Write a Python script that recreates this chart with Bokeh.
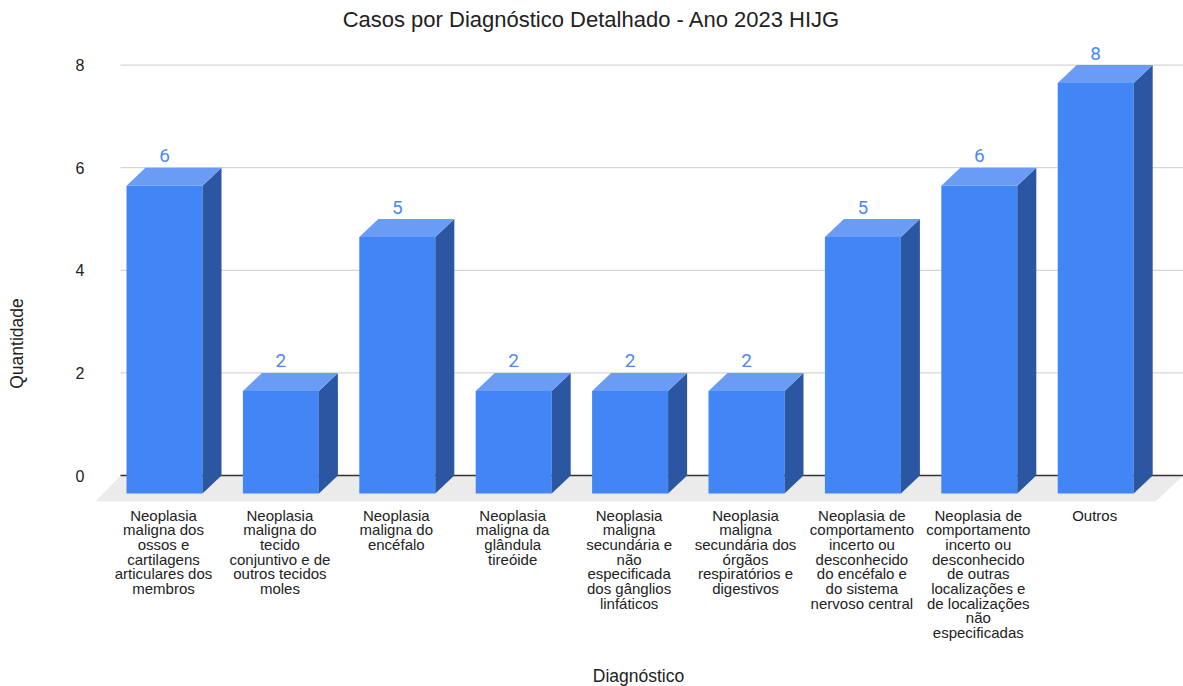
from bokeh.plotting import figure
from bokeh.models import Range1d, FixedTicker
from bokeh.embed import file_html
from bokeh.resources import INLINE
from bokeh.core.properties import value

# ---------------- data ----------------
categories = [
    "Neoplasia\nmaligna dos\nossos e\ncartilagens\narticulares dos\nmembros",
    "Neoplasia\nmaligna do\ntecido\nconjuntivo e de\noutros tecidos\nmoles",
    "Neoplasia\nmaligna do\nencéfalo",
    "Neoplasia\nmaligna da\nglândula\ntireóide",
    "Neoplasia\nmaligna\nsecundária e\nnão\nespecificada\ndos gânglios\nlinfáticos",
    "Neoplasia\nmaligna\nsecundária dos\nórgãos\nrespiratórios e\ndigestivos",
    "Neoplasia de\ncomportamento\nincerto ou\ndesconhecido\ndo encéfalo e\ndo sistema\nnervoso central",
    "Neoplasia de\ncomportamento\nincerto ou\ndesconhecido\nde outras\nlocalizações e\nde localizações\nnão\nespecificadas",
    "Outros",
]
counts = [6, 2, 5, 2, 2, 2, 5, 6, 8]
y_ticks = [0, 2, 4, 6, 8]
title_text = "Casos por Diagnóstico Detalhado - Ano 2023 HIJG"
x_title = "Diagnóstico"
y_title = "Quantidade"

# ---------------- layout (pixels) ----------------
W, H = 1183, 686
FL = 90          # frame left
X0 = 164.0       # pixel of first category centre
KX = 116.4       # pixels per category
Y0 = 475.0       # pixel of value 0
KY = 51.3        # pixels per unit


def sx(px):
    return (px - X0) / KX


def sy(py):
    return (Y0 - py) / KY


FRONT = "#4285F4"
SIDE = "#2B56A1"
TOP = "#6A9CF5"
FONT = "Liberation Sans"

p = figure(width=W, height=H, x_range=Range1d(sx(FL), sx(W)), y_range=Range1d(sy(H), sy(0)),
           output_backend="svg", toolbar_location=None, x_axis_location=None,
           min_border_left=FL, min_border_right=0, min_border_top=0, min_border_bottom=0)
p.xgrid.visible = False
p.ygrid.visible = False
p.outline_line_color = None
p.background_fill_color = "white"
p.border_fill_color = "white"

ax = p.yaxis[0]
ax.ticker = FixedTicker(ticks=y_ticks)
ax.axis_line_color = None
ax.major_tick_line_color = None
ax.minor_tick_line_color = None
ax.major_tick_out = 0
ax.major_tick_in = 0
ax.major_label_standoff = 6
ax.major_label_text_font = FONT
ax.major_label_text_font_size = "16px"
ax.major_label_text_color = "#222222"
ax.axis_label = y_title
ax.axis_label_text_font = FONT
ax.axis_label_text_font_size = "17.5px"
ax.axis_label_text_font_style = "normal"
ax.axis_label_text_color = "#222222"
ax.axis_label_standoff = 46

# floor
p.patch(x=[sx(120), sx(W), sx(1155), sx(95)], y=[0, 0, sy(501), sy(501)],
        fill_color="#EBEBEB", line_color=None)

# gridlines
p.segment(x0=[sx(120)] * len(y_ticks), y0=y_ticks, x1=[sx(W)] * len(y_ticks), y1=y_ticks,
          line_color="#CCCCCC", line_width=1)
p.segment(x0=[sx(120)], y0=[0], x1=[sx(W)], y1=[0], line_color="#333333", line_width=1.5)

# 3D bars
hw = 38.0 / KX
dx = 19.0 / KX
dy = 18.0 / KY
xs = list(range(len(counts)))
p.quad(left=[x - hw for x in xs], right=[x + hw for x in xs],
       bottom=[-dy] * len(xs), top=[v - dy for v in counts],
       fill_color=FRONT, line_color=None)
p.patches(xs=[[x + hw, x + hw + dx, x + hw + dx, x + hw] for x in xs],
          ys=[[-dy, 0, v, v - dy] for v in counts],
          fill_color=SIDE, line_color=None)
p.patches(xs=[[x - hw, x - hw + dx, x + hw + dx, x + hw] for x in xs],
          ys=[[v - dy, v, v, v - dy] for v in counts],
          fill_color=TOP, line_color=None)

# value labels
p.text(x=xs, y=[v + 12.0 / KY for v in counts], text=[str(v) for v in counts],
       text_align="center", text_baseline="middle",
       text_font=value("Roboto"), text_font_size="19px", text_color="#4A89F3")

# category labels
p.text(x=[x - 1.0 / KX for x in xs], y=[sy(506)] * len(xs), text=categories,
       text_align="center", text_baseline="top", text_line_height=0.865,
       text_font=value(FONT), text_font_size="15px", text_color="#222222")

# title and x title
p.text(x=[sx(591)], y=[sy(19.2)], text=[title_text], text_align="center",
       text_baseline="middle", text_font=value(FONT), text_font_size="22px",
       text_color="#222222")
p.text(x=[sx(638)], y=[sy(675)], text=[x_title], text_align="center",
       text_baseline="middle", text_font=value(FONT), text_font_size="17.5px",
       text_color="#222222")

open("out.html", "w").write(file_html(p, INLINE))
